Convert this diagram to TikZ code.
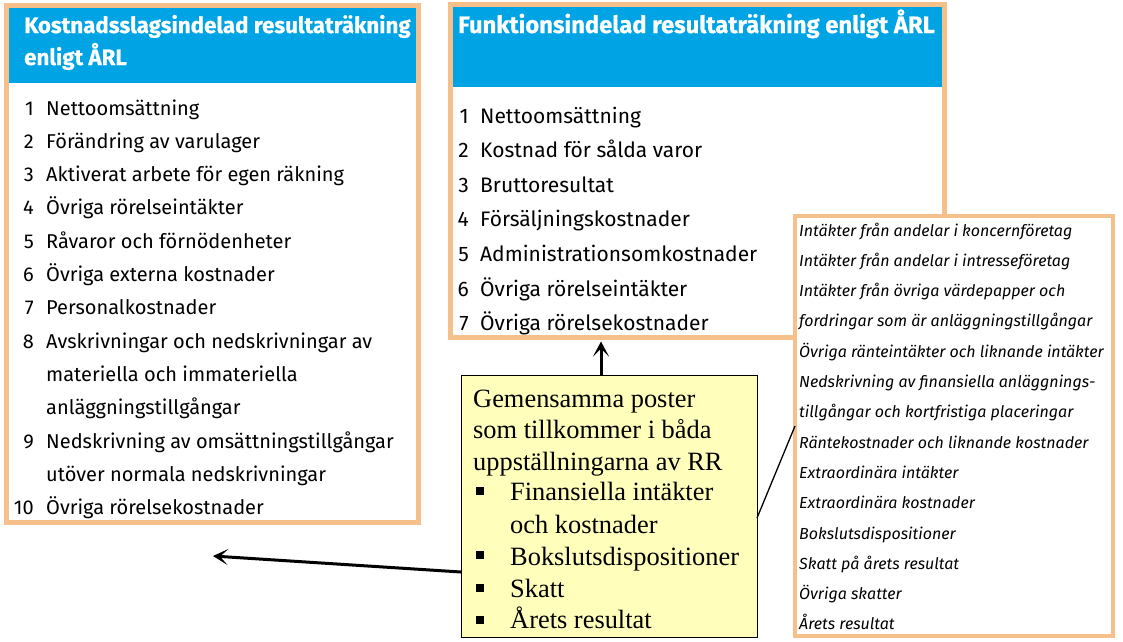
\documentclass[tikz,border=0pt]{standalone}
\usepackage{fontspec}
\setmainfont{Fira Sans}
\newfontfamily\headfont[BoldFeatures={FakeBold=0.6}]{Fira Sans}
\newfontfamily\notefont{Liberation Serif}
\usetikzlibrary{arrows.meta,positioning}
\definecolor{frame}{RGB}{245,192,138}
\definecolor{header}{RGB}{0,164,228}
\definecolor{notefill}{RGB}{255,255,187}

\begin{document}
\begin{tikzpicture}[x=1pt,y=-1pt,
  box/.style={draw=frame,line width=5pt,fill=white,inner sep=0,outer sep=0,anchor=north west},
  title/.style={anchor=base west,inner sep=0,text=white},
  num/.style={anchor=base east,inner sep=0},
  item/.style={anchor=base west,inner sep=0},
  small/.style={anchor=base west,inner sep=0,font=\itshape\fontsize{16}{19}\selectfont},
  note/.style={draw=black,line width=0.8pt,fill=notefill,inner sep=0,outer sep=0,anchor=north west},
  notetext/.style={anchor=base west,inner sep=0,font=\notefont\fontsize{26.4}{31}\selectfont},
  link/.style={-{Stealth[length=15pt,width=16pt,inset=8pt]},line width=3pt}
]
\useasboundingbox (0,0) rectangle (1123,641);

% kostnadsslagsindelad
\node[box,minimum width=412pt,minimum height=517pt] (kbox) at (6.5,5.5) {};
\fill[header] (9,8) rectangle (416,83);
\node[title,font=\headfont\bfseries\fontsize{22.3}{24}\selectfont] (ktitle1) at (24,33) {Kostnadsslagsindelad resultaträkning};
\node[title,font=\headfont\bfseries\fontsize{22.3}{24}\selectfont] (ktitle2) at (24,65) {enligt ÅRL};
\foreach \n/\t [count=\i from 0] in {1/Nettoomsättning,2/Förändring av varulager,
  3/Aktiverat arbete för egen räkning,4/Övriga rörelseintäkter,
  5/Råvaror och förnödenheter,6/Övriga externa kostnader,7/Personalkostnader,
  8/Avskrivningar och nedskrivningar av,/materiella och immateriella,
  /anläggningstillgångar,9/Nedskrivning av omsättningstillgångar,
  /utöver normala nedskrivningar,10/Övriga rörelsekostnader}
{
  \node[num,font=\fontsize{20}{24}\selectfont] (kn\i) at (34,115+33.3*\i) {\n};
  \node[item,font=\fontsize{20}{24}\selectfont] (k\i) at (46,115+33.3*\i) {\t};
}

% funktionsindelad
\node[box,minimum width=494pt,minimum height=333pt] (fbox) at (450.5,4.5) {};
\fill[header] (453,7) rectangle (942,87);
\node[title,font=\headfont\bfseries\fontsize{23.8}{26}\selectfont] (ftitle) at (458,33) {Funktionsindelad resultaträkning enligt ÅRL};
\foreach \n/\t [count=\i from 0] in {1/Nettoomsättning,2/Kostnad för sålda varor,
  3/Bruttoresultat,4/Försäljningskostnader,5/Administrationsomkostnader,
  6/Övriga rörelseintäkter,7/Övriga rörelsekostnader}
{
  \node[num,font=\fontsize{21}{25}\selectfont] (fn\i) at (469,123+34.6*\i) {\n};
  \node[item,font=\fontsize{21}{25}\selectfont] (f\i) at (480,123+34.6*\i) {\t};
}

% finansiella poster
\node[box,line width=4pt,minimum width=318pt,minimum height=420pt] (rbox) at (795,216) {};
\foreach \t [count=\i from 0] in {Intäkter från andelar i koncernföretag,
  Intäkter från andelar i intresseföretag,Intäkter från övriga värdepapper och,
  fordringar som är anläggningstillgångar,Övriga ränteintäkter och liknande intäkter,
  Nedskrivning av finansiella anläggnings-,tillgångar och kortfristiga placeringar,
  Räntekostnader och liknande kostnader,Extraordinära intäkter,Extraordinära kostnader,
  Bokslutsdispositioner,Skatt på årets resultat,Övriga skatter,Årets resultat}
{
  \node[small] (r\i) at (799,236+30.3*\i) {\t};
}

% gemensamma poster
\node[note,minimum width=296pt,minimum height=262pt] (note) at (461,375) {};
\node[notetext] (g1) at (473,407) {Gemensamma poster};
\node[notetext] (g2) at (473,438) {som tillkommer i båda};
\node[notetext] (g3) at (473,470) {uppställningarna av RR};
\foreach \t/\y [count=\i] in {Finansiella intäkter/500,och kostnader/533,
  Bokslutsdispositioner/565,Skatt/597,Årets resultat/628}
{
  \node[notetext] (b\i) at (510,\y) {\t};
}
\foreach \y [count=\i] in {491,555,588,620}
  \fill (476,\y-4) rectangle (484,\y+4);

% pilar
\coordinate (up) at (601,0);
\coordinate (kend) at (213,556);
\draw[link,shorten >=4pt] (note.north -| up) -- (fbox.south -| up);
\draw[link] ([yshift=-66pt]note.west) -- (kend);
\draw[line width=1.3pt] ([yshift=-12pt]note.east) -- (rbox.west);
\end{tikzpicture}
\end{document}
